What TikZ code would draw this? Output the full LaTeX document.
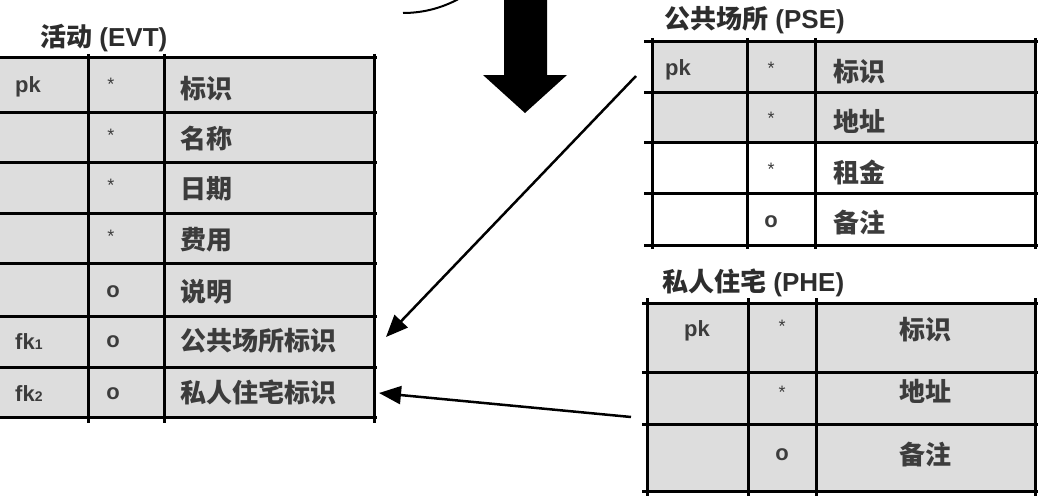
\documentclass[tikz,border=0pt]{standalone}
\usepackage{fontspec}
\setmainfont{Liberation Sans}
\newfontfamily\cjk{Noto Sans CJK SC}
\usetikzlibrary{arrows.meta}
\definecolor{cellgray}{RGB}{221,221,221}
\definecolor{inkc}{RGB}{45,45,45}
\definecolor{cellink}{RGB}{60,60,60}
\begin{document}
\begin{tikzpicture}[x=1pt,y=-1pt,
  gridline/.style={line width=3pt},
  title/.style={font=\fontsize{26}{30}\selectfont\bfseries, inner sep=0pt, anchor=west, text=inkc},
  cn/.style={font=\cjk\fontsize{26}{30}\selectfont\bfseries, inner sep=0pt, text=cellink},
  lt/.style={font=\fontsize{22}{26}\selectfont\bfseries, inner sep=0pt, text=cellink},
  star/.style={font=\fontsize{18}{20}\selectfont, inner sep=0pt, text=cellink},
  link/.style={line width=2.5pt, -{Triangle[length=22pt,width=18pt]}},
]
\useasboundingbox (0,0) rectangle (1038,495);

% ---------------- EVT ----------------
\fill[cellgray] (0,58) rectangle (374,417);
\foreach \y in {58,112,162,213,263,316,367,417} \draw[gridline] (-5,\y) -- (377,\y);
\foreach \x in {88,164,374} \draw[gridline] (\x,54) -- (\x,423);
\node[title] (evtT) at (40,38) {{\cjk 活动} (EVT)};

\node[lt,anchor=west] (e1a) at (15,87) {pk};
\node[star] (e1b) at (111,84) {*};
\node[cn,anchor=west] (e1c) at (180,89) {标识};
\node[star] (e2b) at (111,135) {*};
\node[cn,anchor=west] (e2c) at (180,139) {名称};
\node[star] (e3b) at (111,185) {*};
\node[cn,anchor=west] (e3c) at (180,189) {日期};
\node[star] (e4b) at (111,236) {*};
\node[cn,anchor=west] (e4c) at (180,240) {费用};
\node[lt] (e5b) at (113,292) {o};
\node[cn,anchor=west] (e5c) at (180,292) {说明};
\node[lt,anchor=west] (e6a) at (15,342) {fk{\fontsize{14}{14}\selectfont 1}};
\node[lt] (e6b) at (113,342) {o};
\node[cn,anchor=west] (e6c) at (180,341) {公共场所标识};
\node[lt,anchor=west] (e7a) at (15,394) {fk{\fontsize{14}{14}\selectfont 2}};
\node[lt] (e7b) at (113,394) {o};
\node[cn,anchor=west] (e7c) at (180,392) {私人住宅标识};

% ---------------- PSE ----------------
\fill[cellgray] (652,42) rectangle (1035,142);
\foreach \y in {42,92,142,193,245} \draw[gridline] (644,\y) -- (1042,\y);
\foreach \x in {652,747,815,1035} \draw[gridline] (\x,38) -- (\x,249);
\node[title] (pseT) at (664,20) {{\cjk 公共场所} (PSE)};

\node[lt,anchor=west] (p1a) at (665,70) {pk};
\node[star] (p1b) at (771,68) {*};
\node[cn,anchor=west] (p1c) at (833,72) {标识};
\node[star] (p2b) at (771,118) {*};
\node[cn,anchor=west] (p2c) at (833,121) {地址};
\node[star] (p3b) at (771,169) {*};
\node[cn,anchor=west] (p3c) at (833,172) {租金};
\node[lt] (p4b) at (771,222) {o};
\node[cn,anchor=west] (p4c) at (833,223) {备注};

% ---------------- PHE ----------------
\fill[cellgray] (647,303) rectangle (1035,491);
\foreach \y in {303,372,424,491} \draw[gridline] (642,\y) -- (1042,\y);
\foreach \x in {647,748,816,1035} \draw[gridline] (\x,298) -- (\x,497);
\node[title] (pheT) at (662,283) {{\cjk 私人住宅} (PHE)};

\node[lt] (h1a) at (697,331) {pk};
\node[star] (h1b) at (782,326) {*};
\node[cn] (h1c) at (925,330) {标识};
\node[star] (h2b) at (782,392) {*};
\node[cn] (h2c) at (925,391) {地址};
\node[lt] (h3b) at (782,455) {o};
\node[cn] (h3c) at (925,455) {备注};

% ---------------- arrows ----------------
\fill (504,-2) -- (547,-2) -- (547,75) -- (567,75) -- (525,113) -- (483,75) -- (504,75) -- cycle;
\draw[line width=2pt] (403,13) .. controls (425,13) and (445,7) .. (462,-3);

\coordinate (pseL) at (636,76);
\coordinate (evtFk1) at (386,337);
\coordinate (pheL) at (631,417);
\coordinate (evtFk2) at (379,393);
\draw[link] (pseL) -- (evtFk1);
\draw[link] (pheL) -- (evtFk2);
\end{tikzpicture}
\end{document}
